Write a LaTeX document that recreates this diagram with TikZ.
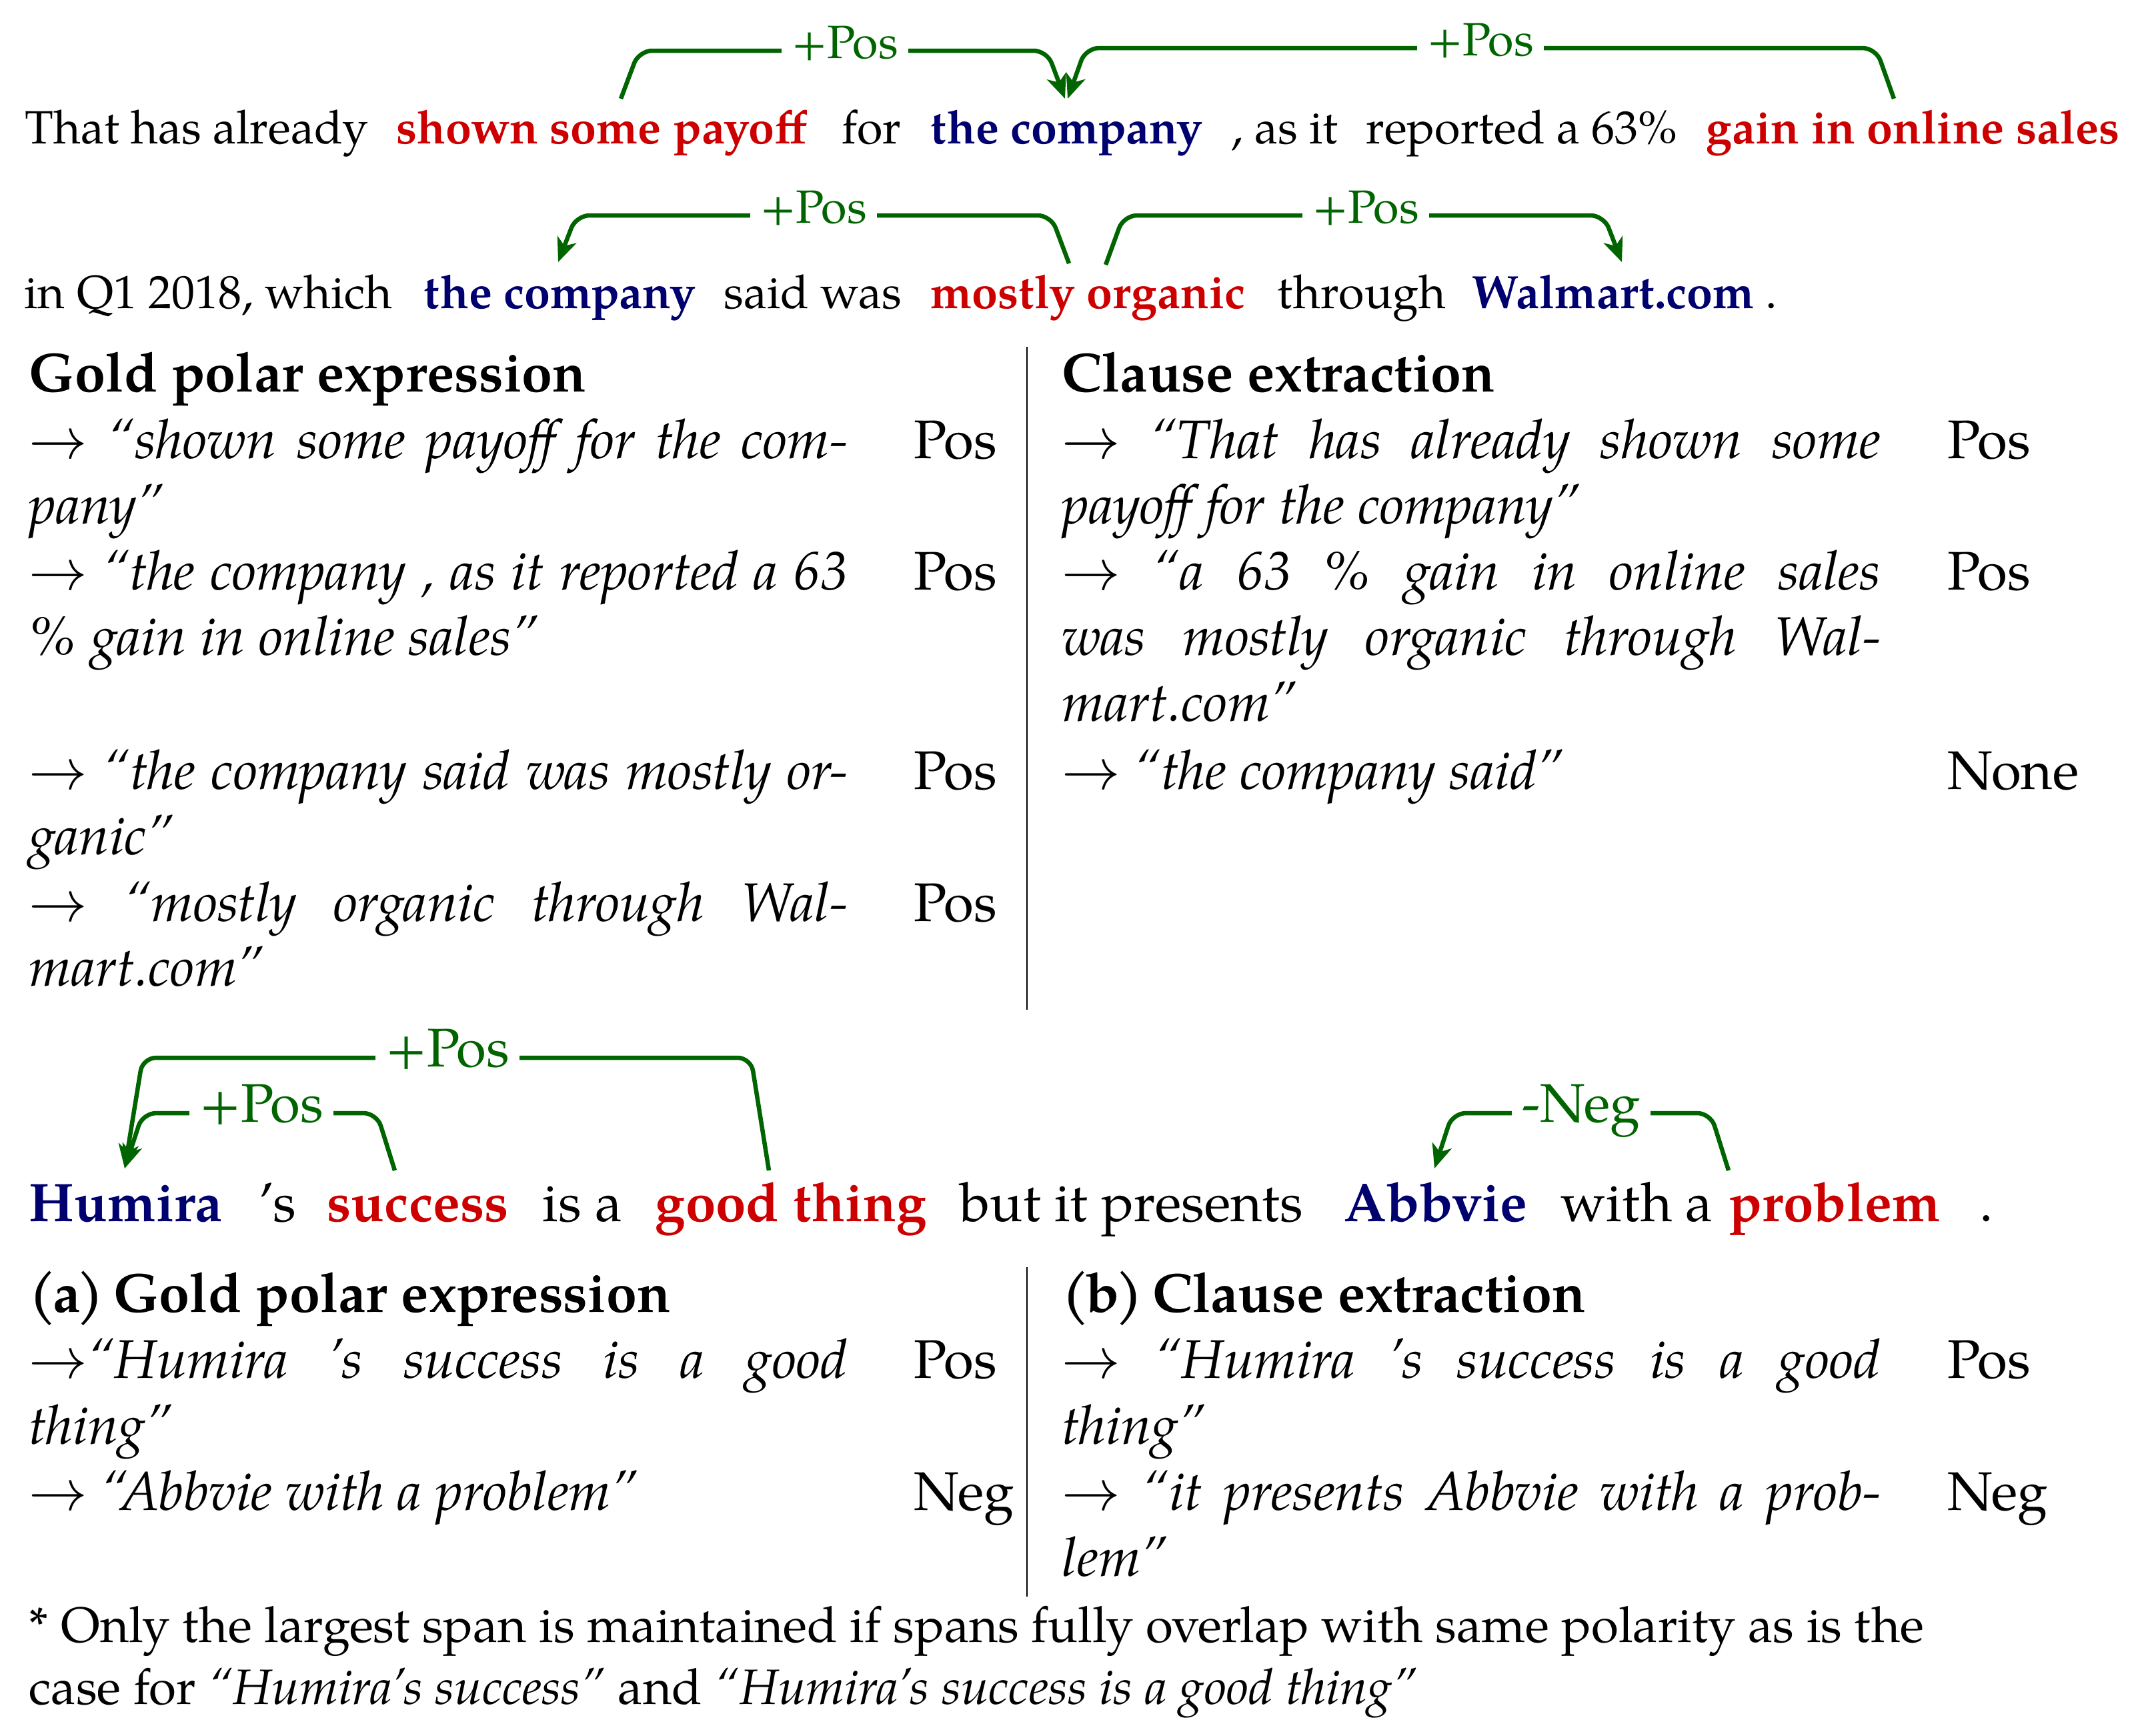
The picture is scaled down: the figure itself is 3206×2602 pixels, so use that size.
\documentclass[tikz,border=0pt]{standalone}
\usepackage{fontspec}
\setmainfont{TeX Gyre Pagella}
\usetikzlibrary{arrows.meta,calc}
\definecolor{pred}{RGB}{204,0,0}
\definecolor{pblue}{RGB}{0,0,110}
\definecolor{pgreen}{RGB}{0,100,0}
\newcommand\szA{\fontsize{19.9pt}{24pt}\selectfont}
\newcommand\szB{\fontsize{23.2pt}{28pt}\selectfont}
\newcommand\szH{\fontsize{23.5pt}{28pt}\selectfont}
\newcommand\szF{\fontsize{21.2pt}{26pt}\selectfont}
\newcommand\RA{$\rightarrow$}
\newcommand\jl[1]{\makebox[12.27cm][s]{#1}}
\newcommand\plab[1]{(\kern-0.06em #1\kern-0.06em)\hspace{-0.08em}}
\tikzset{
  tw/.style={anchor=base west, inner sep=0pt, font=\szA},
  tr/.style={tw, font=\szA\bfseries, text=pred},
  tb/.style={tw, font=\szA\bfseries, text=pblue},
  bw/.style={anchor=base west, inner sep=0pt, font=\szB},
  br/.style={bw, font=\szB\bfseries, text=pred},
  bb/.style={bw, font=\szB\bfseries, text=pblue},
  hd/.style={bw, font=\szH\bfseries},
  fn/.style={anchor=base west, inner sep=0pt, font=\szF},
  arc/.style={draw=pgreen, line width=0.065cm, rounded corners=0.2cm,
    -{Stealth[length=0.36cm,width=0.3cm,inset=0.1cm]}},
  lblA/.style={fill=white, text=pgreen, anchor=base, inner xsep=0.15cm, inner ysep=0.04cm, font=\szA},
  lblB/.style={fill=white, text=pgreen, anchor=base, inner xsep=0.15cm, inner ysep=0.04cm, font=\szB},
  sep/.style={draw=black, line width=0.025cm}
}
\begin{document}
\begin{tikzpicture}[x=0.01cm,y=-0.01cm]
\useasboundingbox (0,0) rectangle (3206,2602);
\fill[white] (0,0) rectangle (3206,2602);

% ---------- top sentence, line 1 ----------
\node[tw] (t1) at (37,215) {That has already};
\node[tr] (t2) at (594,215) {shown some payoff};
\node[tw] (t3) at (1262,215) {for};
\node[tb] (t4) at (1395,215) {the company};
\node[tw] (t5) at (1846,215) {, as it};
\node[tw] (t6) at (2048,215) {reported a 63\%};
\node[tr] (t7) at (2558,215) {gain in online sales};
% ---------- line 2 ----------
\node[tw] (u1) at (36,462) {in Q1 2018, which};
\node[tb] (u2) at (635,462) {the company};
\node[tw] (u3) at (1085,462) {said was};
\node[tr] (u4) at (1395,462) {mostly organic};
\node[tw] (u5) at (1915,462) {through};
\node[tb] (u6) at (2207,462) {Walmart.com};
\node[tw] (u7) at (2647,462) {.};

% ---------- arcs, top ----------
\coordinate (a1s) at (931,148); \coordinate (a1e) at (1597,148);
\coordinate (a2s) at (2840,148); \coordinate (a2e) at (1601,148);
\coordinate (a3s) at (1603,395); \coordinate (a3e) at (837,393);
\coordinate (a4s) at (1658,397); \coordinate (a4e) at (2432,393);
\draw[arc] (a1s) -- ++(27,-72) -- ($(a1e)+(-27,-72)$) -- (a1e);
\draw[arc] (a2s) -- ++(-27,-76) -- ($(a2e)+(27,-76)$) -- (a2e);
\draw[arc] (a3s) -- ++(-27,-72) -- ($(a3e)+(27,-70)$) -- (a3e);
\draw[arc] (a4s) -- ++(27,-74) -- ($(a4e)+(-27,-70)$) -- (a4e);
\node[lblA] (l1) at (1267,87) {+Pos};
\node[lblA] (l2) at (2220,83) {+Pos};
\node[lblA] (l3) at (1220,334) {+Pos};
\node[lblA] (l4) at (2048,334) {+Pos};

% ---------- top table ----------
\node[hd] (h1) at (43,587) {Gold polar expression};
\node[hd] (h2) at (1592,587) {Clause extraction};
\node[bw] (p1) at (43,687) {\jl{\RA{} \textit{“shown some payoff for the com-}}};
\node[bw] (p1v) at (1370,687) {Pos};
\node[bw] (p1b) at (43,785) {\textit{pany”}};
\node[bw] (p2) at (43,884) {\jl{\RA{} \textit{“the company , as it reported a 63}}};
\node[bw] (p2v) at (1370,884) {Pos};
\node[bw] (p2b) at (43,982) {\textit{\% gain in online sales”}};
\node[bw] (p3) at (43,1183) {\jl{\RA{} \textit{“the company said was mostly or-}}};
\node[bw] (p3v) at (1370,1183) {Pos};
\node[bw] (p3b) at (43,1281) {\textit{ganic”}};
\node[bw] (p4) at (43,1381) {\jl{\RA{} \textit{“mostly organic through Wal-}}};
\node[bw] (p4v) at (1370,1381) {Pos};
\node[bw] (p4b) at (43,1478) {\textit{mart.com”}};

\node[bw] (q1) at (1592,687) {\jl{\RA{} \textit{“That has already shown some}}};
\node[bw] (q1v) at (2920,687) {Pos};
\node[bw] (q1b) at (1592,785) {\textit{payoff for the company”}};
\node[bw] (q2) at (1592,884) {\jl{\RA{} \textit{“a 63 \% gain in online sales}}};
\node[bw] (q2v) at (2920,884) {Pos};
\node[bw] (q2b) at (1592,982) {\jl{\textit{was mostly organic through Wal-}}};
\node[bw] (q2c) at (1592,1081) {\textit{mart.com”}};
\node[bw] (q3) at (1592,1183) {\RA{} \textit{“the company said”}};
\node[bw] (q3v) at (2920,1183) {None};
\draw[sep] (1540,520) -- (1540,1514);

% ---------- bottom sentence ----------
\node[bb] (s1) at (43,1831) {Humira};
\node[bw] (s2) at (388,1831) {’s};
\node[br] (s3) at (490,1831) {success};
\node[bw] (s4) at (813,1831) {is a};
\node[br] (s5) at (982,1831) {good thing};
\node[bw] (s6) at (1439,1831) {but it presents};
\node[bb] (s7) at (2015,1831) {Abbvie};
\node[bw] (s8) at (2340,1831) {with a};
\node[br] (s9) at (2592,1831) {problem};
\node[bw] (s10) at (2968,1831) {.};

\coordinate (b1s) at (1153,1755); \coordinate (b1e) at (187,1752);
\coordinate (b2s) at (592,1755);
\coordinate (b3s) at (2592,1755); \coordinate (b3e) at (2151,1752);
\draw[arc] (b1s) -- ++(-27,-169) -- ($(b1e)+(27,-166)$) -- (b1e);
\draw[arc] (b2s) -- ++(-27,-86) -- ($(b1e)+(27,-83)$) -- (b1e);
\draw[arc] (b3s) -- ++(-27,-86) -- ($(b3e)+(27,-83)$) -- (b3e);
\node[lblB] (m1) at (671,1599) {+Pos};
\node[lblB] (m2) at (392,1682) {+Pos};
\node[lblB] (m3) at (2371,1682) {-Neg};

% ---------- bottom table ----------
\node[hd] (g1) at (43,1967) {\plab{a} Gold polar expression};
\node[hd] (g2) at (1592,1967) {\plab{b} Clause extraction};
\node[bw] (r1) at (43,2066) {\jl{\RA\textit{“Humira ’s success is a good}}};
\node[bw] (r1v) at (1370,2066) {Pos};
\node[bw] (r1b) at (43,2165) {\textit{thing”}};
\node[bw] (r2) at (43,2264) {\RA{} \textit{“Abbvie with a problem”}};
\node[bw] (r2v) at (1370,2264) {Neg};
\node[bw] (k1) at (1592,2066) {\jl{\RA{} \textit{“Humira ’s success is a good}}};
\node[bw] (k1v) at (2920,2066) {Pos};
\node[bw] (k1b) at (1592,2165) {\textit{thing”}};
\node[bw] (k2) at (1592,2264) {\jl{\RA{} \textit{“it presents Abbvie with a prob-}}};
\node[bw] (k2v) at (2920,2264) {Neg};
\node[bw] (k2b) at (1592,2363) {\textit{lem”}};
\draw[sep] (1540,1900) -- (1540,2394);

% ---------- footnote ----------
\node[fn] (f1) at (43,2462) {* Only the largest span is maintained if spans fully overlap with same polarity as is the};
\node[fn] (f2) at (43,2555) {case for \textit{“Humira’s success”} and \textit{“Humira’s success is a good thing”}};
\end{tikzpicture}
\end{document}
